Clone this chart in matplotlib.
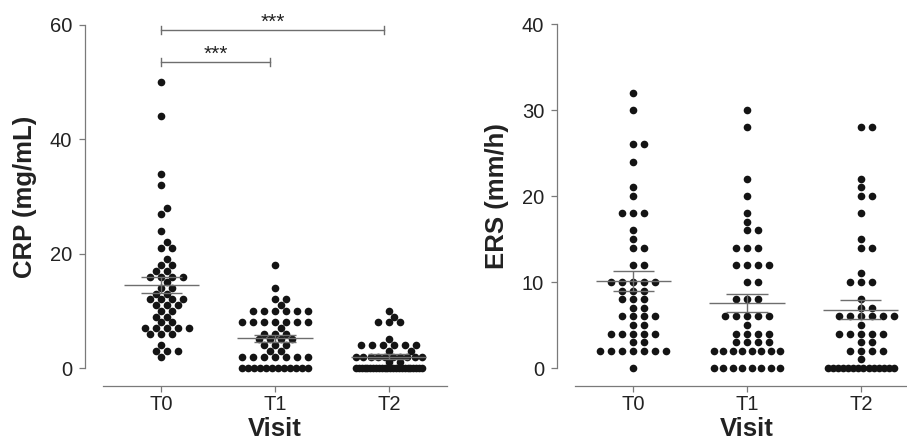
import numpy as np
import matplotlib
matplotlib.use("Agg")
import matplotlib.pyplot as plt

plt.rcParams['font.family'] = ['Liberation Sans', 'DejaVu Sans']

visits = ['T0', 'T1', 'T2']

crp_t0 = [50, 44, 34, 32, 28, 27, 24, 22, 21, 21, 19, 18, 18, 17, 17,
          16, 16, 16, 16, 15, 14, 14, 13, 13, 12, 12, 12, 12, 11, 11, 11,
          10, 10, 9, 9, 8, 8, 7, 7, 7, 7, 7, 6, 6, 6, 4, 3, 3, 3, 2]
crp_t1 = [18, 14, 12, 12, 11, 10, 10, 10, 10, 10, 10,
          8, 8, 8, 8, 8, 8, 8, 7, 6, 6, 6, 5, 5, 5, 5, 4, 4, 4, 3, 3,
          2, 2, 2, 2, 2, 2, 2, 0, 0, 0, 0, 0, 0, 0, 0, 0, 0, 0, 0]
crp_t2 = [10, 9, 8, 8, 8, 5, 4, 4, 4, 4, 4, 4, 3, 3,
          2, 2, 2, 2, 2, 2, 2, 2, 2, 2, 1, 1,
          0, 0, 0, 0, 0, 0, 0, 0, 0, 0, 0, 0, 0, 0, 0, 0, 0, 0, 0, 0, 0, 0, 0, 0]

ers_t0 = [32, 30, 26, 26, 24, 21, 20, 18, 18, 18, 16, 15, 14, 14, 12, 12,
          10, 10, 10, 10, 10, 9, 9, 9, 8, 8, 8, 7, 7, 6, 6, 6, 6, 5, 5,
          4, 4, 4, 4, 4, 3, 3, 2, 2, 2, 2, 2, 2, 2, 0]
ers_t1 = [30, 28, 22, 20, 18, 17, 16, 16, 14, 14, 14, 12, 12, 12, 12,
          10, 10, 8, 8, 8, 6, 6, 6, 6, 6, 5, 4, 4, 4, 4, 3, 3, 3, 3,
          2, 2, 2, 2, 2, 2, 2, 2, 0, 0, 0, 0, 0, 0, 0, 0]
ers_t2 = [28, 28, 22, 21, 20, 20, 18, 15, 14, 14, 11, 10, 10, 10, 8, 7, 7,
          6, 6, 6, 6, 6, 6, 5, 4, 4, 4, 4, 4, 3, 3, 2, 2, 2, 2, 1,
          0, 0, 0, 0, 0, 0, 0, 0, 0, 0, 0, 0, 0, 0]

crp_groups = [crp_t0, crp_t1, crp_t2]
ers_groups = [ers_t0, ers_t1, ers_t2]

crp_ticks = [0, 20, 40, 60]
ers_ticks = [0, 10, 20, 30, 40]
sig_pairs = [(0, 1), (0, 2)]
sig_labels = ['***', '***']

W, H = 907, 442
fig = plt.figure(figsize=(W / 100, H / 100), dpi=100)

DOT = '#141414'
LINE = '#6e6e6e'
TXT = '#222222'


def swarm_offsets(values, px_per_y, step=11.0, coll=7.8, maxhalf=33.0):
    vals = np.asarray(values, float)
    offs = np.zeros(len(vals))
    placed = []
    cands = [0.0]
    k = 1
    while k * step / 2 <= maxhalf + 1e-6:
        cands += [k * step / 2, -k * step / 2]
        k += 1
    for u in np.unique(vals):
        idx = np.where(vals == u)[0]
        n = len(idx)
        y = u * px_per_y
        if (n - 1) * step > 2 * maxhalf:
            xs = np.linspace(-maxhalf, maxhalf, n)
            for i, x in zip(idx, xs):
                offs[i] = x
                placed.append((x, y))
            continue
        for i in idx:
            best = None
            bestd, bestc = -1, 0.0
            for c in cands:
                d = min((np.hypot(c - px, y - py) for px, py in placed), default=1e9)
                if d >= coll:
                    best = c
                    break
                if d > bestd:
                    bestd, bestc = d, c
            if best is None:
                best = bestc
            offs[i] = best
            placed.append((best, y))
    return offs


def make_panel(left_px, top_px, groups, ymax, ticks, ylabel, ylab_x):
    xl = (-0.51, 2.51)
    width_px = 344
    bottom_px = 368
    ax = fig.add_axes([left_px / W, (H - bottom_px) / H,
                       width_px / W, (bottom_px - top_px) / H])
    ax.set_xlim(*xl)
    ax.set_ylim(0, ymax)
    px_per_x = width_px / (xl[1] - xl[0])
    px_per_y = (bottom_px - top_px) / ymax
    for i, g in enumerate(groups):
        offs = swarm_offsets(g, px_per_y) / px_per_x
        ax.plot(i + offs, g, 'o', ms=5.5, mew=0, color=DOT, clip_on=False, zorder=2)
        arr = np.asarray(g, float)
        m = arr.mean()
        se = arr.std(ddof=1) / np.sqrt(len(arr))
        ax.hlines(m, i - 0.33, i + 0.33, color=LINE, lw=1.0, zorder=3)
        ax.hlines([m - se, m + se], i - 0.18, i + 0.18, color=LINE, lw=1.0, zorder=3)
        ax.vlines(i, m - se, m + se, color=LINE, lw=1.0, zorder=3)
    for s in ['top', 'right']:
        ax.spines[s].set_visible(False)
    for s in ['left', 'bottom']:
        ax.spines[s].set_position(('outward', 18 * 0.72))
        ax.spines[s].set_color('#7a7a7a')
        ax.spines[s].set_linewidth(0.9)
    ax.set_xticks(range(len(visits)))
    ax.set_xticklabels(visits)
    ax.set_yticks(ticks)
    ax.tick_params(direction='out', length=4.3, width=0.9, color='#7a7a7a',
                   labelcolor=TXT, labelsize=14.5)
    ax.tick_params(axis='y', pad=5)
    ax.tick_params(axis='x', pad=2.5)
    fig.text(ylab_x / W, (H - (top_px + bottom_px) / 2) / H, ylabel, rotation=90,
             ha='center', va='center', fontsize=18.5, fontweight='bold', color=TXT)
    fig.text((left_px + (1 - xl[0]) * px_per_x) / W, 1.0 / H, 'Visit', ha='center',
             va='bottom', fontsize=18.5, fontweight='bold', color=TXT)
    ax.patch.set_visible(False)
    return ax, px_per_y


ax1, ppy1 = make_panel(103, 25, crp_groups, 60, crp_ticks, 'CRP (mg/mL)', 25)
ax2, ppy2 = make_panel(575, 24, ers_groups, 40, ers_ticks, 'ERS (mm/h)', 497)

# significance brackets on CRP panel
bracket_y = [53.6, 59.2]
tick_h = 4 / ppy1
for (a, b), lab, yb in zip(sig_pairs, sig_labels, bracket_y):
    xb = b - 0.04
    ax1.plot([a, xb], [yb, yb], color=LINE, lw=1.0, clip_on=False)
    ax1.plot([a, a], [yb - tick_h, yb + tick_h], color=LINE, lw=1.0, clip_on=False)
    ax1.plot([xb, xb], [yb - tick_h, yb + tick_h], color=LINE, lw=1.0, clip_on=False)
    ax1.annotate(lab, xy=((a + xb) / 2, yb), xytext=(0, 1.0), textcoords='offset points',
                 ha='center', va='baseline', fontsize=15, color=TXT, annotation_clip=False)

fig.savefig('out.png', dpi=100)
